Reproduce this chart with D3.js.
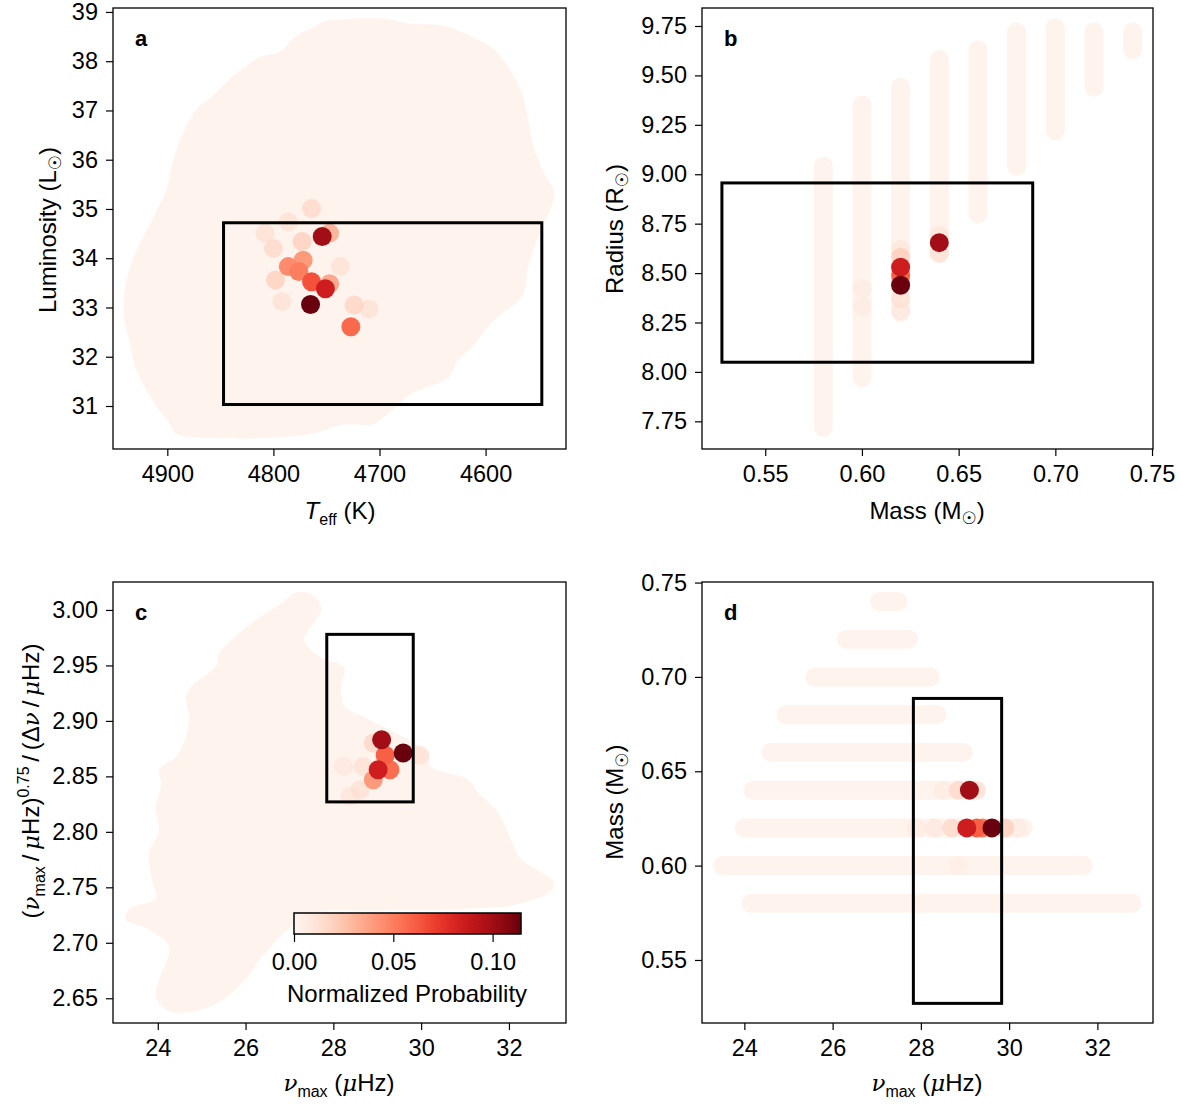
<!DOCTYPE html>
<html>
<head>
<meta charset="utf-8">
<script src="https://cdn.jsdelivr.net/npm/d3@7"></script>
<style>
  body { margin: 0; background: #fff; }
  svg text { font-family: "Liberation Sans", Arial, "DejaVu Sans", sans-serif; }
</style>
</head>
<body>
<svg id="chart" width="1183" height="1104"></svg>
<script>
// ---- data ----
const probMax = 0.1143;
const cloudProb = 0.0012;

// panel a: outline of the faint model cloud (Teff, L)
const aCloudTeff = [4753,4696,4671,4640,4614,4593,4580,4567,4561,4555,4546,4536,4539,4548,4561,4564,4570,4593,4614,4627,4636,4671,4693,4706,4734,4765,4812,4850,4891,4897,4913,4929,4935,4940,4938,4929,4913,4900,4895,4888,4872,4857,4844,4829,4812,4794,4778,4759];
const aCloudLum  = [38.78,38.84,38.74,38.70,38.49,38.23,37.88,37.36,36.81,36.20,35.73,35.32,35.04,34.63,33.82,33.36,33.15,32.75,32.20,31.93,31.59,31.26,30.86,30.65,30.65,30.45,30.37,30.37,30.45,30.65,31.12,31.79,32.34,32.81,33.50,34.11,34.78,35.39,35.85,36.34,37.01,37.27,37.56,37.82,38.07,38.17,38.49,38.69];
// panel a: weighted models
const aTeff = [4786,4808,4792,4710,4737,4764,4800,4724,4773,4798,4747,4747,4772,4786,4776,4727,4764,4751,4754,4765];
const aLum  = [34.74,34.51,33.12,32.97,33.83,35.01,34.20,33.05,34.34,33.56,34.51,33.48,33.96,33.83,33.73,32.61,33.52,33.38,34.44,33.06];
const aProb = [0.015,0.015,0.015,0.015,0.015,0.02,0.02,0.022,0.025,0.025,0.03,0.035,0.04,0.045,0.05,0.057,0.065,0.085,0.10,0.114];
const aBox = { teff: [4847, 4547], lum: [31.03, 34.72] };

// panel b: grid tracks (mass, radius range of the model points)
const bTrackMass = [0.58,0.60,0.62,0.64,0.66,0.68,0.70,0.72,0.74];
const bTrackLow  = [7.72,7.97,8.30,8.60,8.80,9.04,9.22,9.44,9.63];
const bTrackHigh = [9.04,9.35,9.44,9.58,9.63,9.72,9.74,9.72,9.72];
const bMass   = [0.60,0.60,0.62,0.62,0.62,0.62,0.64,0.64,0.62,0.62,0.64,0.62,0.62];
const bRadius = [8.33,8.42,8.31,8.37,8.62,8.58,8.69,8.60,8.47,8.49,8.654,8.438,8.53];
const bProb   = [0.008,0.008,0.010,0.015,0.012,0.025,0.012,0.015,0.03,0.06,0.10,0.114,0.085];
const bBox = { mass: [0.5276, 0.6883], radius: [8.049, 8.956] };

// panel c: outline of the faint model cloud (numax, ratio)
const cCloudNumax = [26.86,27.17,27.54,27.70,27.31,27.76,28.22,28.15,28.22,28.77,29.22,30.13,30.20,30.50,31.04,31.27,31.73,32.02,32.25,32.71,33.00,32.87,32.48,32.02,30.50,28.99,27.47,26.85,26.49,26.33,25.94,25.42,24.80,24.28,23.98,24.05,24.28,23.76,23.30,23.37,23.98,23.89,23.82,24.05,23.98,24.10,24.05,24.44,24.67,24.74,24.67,24.80,25.35,25.42,25.81,26.17];
const cCloudRatio = [3.006,3.015,3.012,3.000,2.973,2.955,2.948,2.931,2.913,2.901,2.892,2.871,2.858,2.853,2.847,2.835,2.817,2.793,2.775,2.763,2.754,2.745,2.739,2.734,2.731,2.730,2.727,2.709,2.694,2.687,2.666,2.648,2.639,2.639,2.651,2.666,2.696,2.714,2.721,2.730,2.739,2.757,2.781,2.799,2.822,2.844,2.856,2.867,2.886,2.901,2.922,2.931,2.949,2.961,2.976,2.988];
const cNumax = [28.23,28.38,28.68,28.61,29.97,28.91,28.91,29.29,29.18,29.02,29.10,29.59];
const cRatio = [2.859,2.832,2.859,2.838,2.869,2.880,2.847,2.856,2.869,2.856,2.883,2.871];
const cProb  = [0.010,0.012,0.015,0.015,0.015,0.022,0.04,0.055,0.06,0.085,0.10,0.114];
const cBox = { numax: [27.85, 29.82], ratio: [2.827, 2.978] };

// panel d: grid tracks (mass, numax range)
const dTrackMass = [0.74,0.72,0.70,0.68,0.66,0.64,0.62,0.60,0.58];
const dTrackLow  = [27.07,26.32,25.60,24.94,24.60,24.20,24.00,23.51,24.15];
const dTrackHigh = [27.48,27.72,28.21,28.36,28.96,29.27,30.32,31.68,32.78];
const dNumax = [27.9,30.2,28.5,28.85,28.3,29.25,28.7,28.85,29.9,29.4,29.27,29.04,29.10,29.61];
const dMass  = [0.62,0.62,0.64,0.60,0.62,0.64,0.62,0.64,0.62,0.62,0.62,0.62,0.64,0.62];
const dProb  = [0.008,0.008,0.008,0.006,0.010,0.015,0.02,0.02,0.025,0.05,0.06,0.085,0.10,0.114];
const dBox = { numax: [27.83, 29.83], mass: [0.527, 0.6886] };

// ticks
const aXTicks = [4900,4800,4700,4600];
const aYTicks = [31,32,33,34,35,36,37,38,39];
const bXTicks = [0.55,0.60,0.65,0.70,0.75];
const bYTicks = [7.75,8.00,8.25,8.50,8.75,9.00,9.25,9.50,9.75];
const cXTicks = [24,26,28,30,32];
const cYTicks = [2.65,2.70,2.75,2.80,2.85,2.90,2.95,3.00];
const dXTicks = [24,26,28,30,32];
const dYTicks = [0.55,0.60,0.65,0.70,0.75];
const cbTicks = [0.00,0.05,0.10];

// ---- drawing ----
const svg = d3.select("#chart");
const color = d3.scaleSequential(d3.interpolateReds).domain([0, probMax]);
const R = 9.5;
const tickFont = "23.5px";
const labelFont = "24px";
let clipId = 0;

function makePanel(cfg) {
    const g = svg.append("g");
    const x = d3.scaleLinear().domain(cfg.xDomain).range([cfg.left, cfg.right]);
    const y = d3.scaleLinear().domain(cfg.yDomain).range([cfg.bottom, cfg.top]);

    const id = "clip" + (clipId++);
    svg.append("clipPath").attr("id", id)
        .append("rect")
        .attr("x", cfg.left).attr("y", cfg.top)
        .attr("width", cfg.right - cfg.left).attr("height", cfg.bottom - cfg.top);
    const plot = g.append("g").attr("clip-path", `url(#${id})`);

    const xAxis = g.append("g")
        .attr("transform", `translate(0,${cfg.bottom})`)
        .call(d3.axisBottom(x).tickValues(cfg.xTicks).tickFormat(d3.format(cfg.xFmt)).tickSize(7).tickPadding(9));
    const yAxis = g.append("g")
        .attr("transform", `translate(${cfg.left},0)`)
        .call(d3.axisLeft(y).tickValues(cfg.yTicks).tickFormat(d3.format(cfg.yFmt)).tickSize(7).tickPadding(8));
    [xAxis, yAxis].forEach(ax => {
        ax.select(".domain").remove();
        ax.selectAll("line").attr("stroke", "#000").attr("stroke-width", 1.2);
        ax.selectAll("text").attr("fill", "#000").style("font-size", tickFont)
            .style("font-family", '"Liberation Sans", Arial, sans-serif');
    });

    return { g, plot, x, y, cfg };
}

function drawFrame(p, letter) {
    p.g.append("rect")
        .attr("x", p.cfg.left).attr("y", p.cfg.top)
        .attr("width", p.cfg.right - p.cfg.left).attr("height", p.cfg.bottom - p.cfg.top)
        .attr("fill", "none").attr("stroke", "#000").attr("stroke-width", 1.3);
    p.g.append("text")
        .attr("x", p.cfg.left + 22).attr("y", p.cfg.top + 38)
        .style("font-size", "22px").style("font-weight", "700")
        .text(letter);
}

function drawCloud(p, xs, ys) {
    const pts = xs.map((v, i) => [v, ys[i]]);
    const line = d3.line().x(d => p.x(d[0])).y(d => p.y(d[1])).curve(d3.curveCatmullRomClosed.alpha(0.5));
    p.plot.append("path")
        .attr("d", line(pts))
        .attr("fill", color(cloudProb))
        .attr("stroke", color(cloudProb))
        .attr("stroke-width", 2)
        .attr("stroke-linejoin", "round");
}

function drawTracks(p, fixed, low, high, vertical) {
    const rows = fixed.map((v, i) => ({ v, lo: low[i], hi: high[i] }));
    p.plot.append("g").selectAll("line")
        .data(rows)
        .enter()
        .append("line")
        .attr("x1", d => vertical ? p.x(d.v) : p.x(d.lo))
        .attr("x2", d => vertical ? p.x(d.v) : p.x(d.hi))
        .attr("y1", d => vertical ? p.y(d.lo) : p.y(d.v))
        .attr("y2", d => vertical ? p.y(d.hi) : p.y(d.v))
        .attr("stroke", color(cloudProb))
        .attr("stroke-width", 2 * R)
        .attr("stroke-linecap", "round");
}

function drawPoints(p, xs, ys, probs) {
    const pts = xs.map((v, i) => ({ x: v, y: ys[i], p: probs[i] }))
        .sort((a, b) => a.p - b.p);
    p.plot.append("g").selectAll("circle")
        .data(pts)
        .enter()
        .append("circle")
        .attr("cx", d => p.x(d.x))
        .attr("cy", d => p.y(d.y))
        .attr("r", R)
        .attr("fill", d => color(d.p))
        .attr("fill-opacity", d => d.p < 0.03 ? 0.6 : 1);
}

function drawBox(p, xr, yr) {
    p.g.append("rect")
        .attr("x", Math.min(p.x(xr[0]), p.x(xr[1])))
        .attr("y", p.y(yr[1]))
        .attr("width", Math.abs(p.x(xr[1]) - p.x(xr[0])))
        .attr("height", p.y(yr[0]) - p.y(yr[1]))
        .attr("fill", "none").attr("stroke", "#000").attr("stroke-width", 3);
}

// label helpers: parts = [text, style]
function richText(sel, parts) {
    let shift = 0;
    parts.forEach(([t, s]) => {
        const ts = sel.append("tspan").text(t);
        let target = 0;
        if (s === "sub") { target = 6; ts.style("font-size", "16px"); }
        if (s === "sup") { target = -10; ts.style("font-size", "16px"); }
        if (s === "symsub") { target = 5; ts.style("font-size", "17px").style("font-family", '"DejaVu Sans", sans-serif'); }
        if (s === "i") { ts.style("font-style", "italic").style("font-family", '"DejaVu Serif", serif').style("font-size", "23px"); }
        if (s === "ti") { ts.style("font-style", "italic"); }
        if (target !== shift) { ts.attr("dy", target - shift); shift = target; }
    });
}

function xLabel(x, y, parts) {
    const t = svg.append("text").attr("x", x).attr("y", y)
        .attr("text-anchor", "middle").style("font-size", labelFont);
    richText(t, parts);
}

function yLabel(x, y, parts) {
    const t = svg.append("text")
        .attr("transform", `translate(${x},${y}) rotate(-90)`)
        .attr("text-anchor", "middle").style("font-size", labelFont);
    richText(t, parts);
}

// panel a
const pa = makePanel({ left: 113, right: 566, top: 8, bottom: 449,
    xDomain: [4951.2, 4524.2], yDomain: [30.127, 39.08],
    xTicks: aXTicks, yTicks: aYTicks, xFmt: "d", yFmt: "d" });
drawCloud(pa, aCloudTeff, aCloudLum);
drawPoints(pa, aTeff, aLum, aProb);
drawBox(pa, aBox.teff, aBox.lum);
drawFrame(pa, "a");

// panel b
const pb = makePanel({ left: 702, right: 1153, top: 8, bottom: 449,
    xDomain: [0.5173, 0.7505], yDomain: [7.61, 9.841],
    xTicks: bXTicks, yTicks: bYTicks, xFmt: ".2f", yFmt: ".2f" });
drawTracks(pb, bTrackMass, bTrackLow, bTrackHigh, true);
drawPoints(pb, bMass, bRadius, bProb);
drawBox(pb, bBox.mass, bBox.radius);
drawFrame(pb, "b");

// panel c
const pc = makePanel({ left: 113, right: 566, top: 582, bottom: 1023,
    xDomain: [22.98, 33.3], yDomain: [2.6277, 3.0252],
    xTicks: cXTicks, yTicks: cYTicks, xFmt: "d", yFmt: ".2f" });
drawCloud(pc, cCloudNumax, cCloudRatio);
drawPoints(pc, cNumax, cRatio, cProb);
drawBox(pc, cBox.numax, cBox.ratio);
drawFrame(pc, "c");

// panel d
const pd = makePanel({ left: 702, right: 1153, top: 582, bottom: 1023,
    xDomain: [23.04, 33.26], yDomain: [0.5166, 0.7503],
    xTicks: dXTicks, yTicks: dYTicks, xFmt: "d", yFmt: ".2f" });
drawTracks(pd, dTrackMass, dTrackLow, dTrackHigh, false);
drawPoints(pd, dNumax, dMass, dProb);
drawBox(pd, dBox.numax, dBox.mass);
drawFrame(pd, "d");

// colorbar inside panel c
const cb = { left: 294, right: 521, top: 913, bottom: 934 };
const grad = svg.append("defs").append("linearGradient").attr("id", "cbgrad");
d3.range(0, 1.0001, 0.05).forEach(t => {
    grad.append("stop").attr("offset", t).attr("stop-color", d3.interpolateReds(t));
});
const cbx = d3.scaleLinear().domain([0, probMax]).range([cb.left, cb.right]);
svg.append("rect")
    .attr("x", cb.left).attr("y", cb.top)
    .attr("width", cb.right - cb.left).attr("height", cb.bottom - cb.top)
    .attr("fill", "url(#cbgrad)").attr("stroke", "#000").attr("stroke-width", 1.5);
const cbAxis = svg.append("g")
    .attr("transform", `translate(0,${cb.bottom})`)
    .call(d3.axisBottom(cbx).tickValues(cbTicks).tickFormat(d3.format(".2f")).tickSize(8).tickPadding(11));
cbAxis.select(".domain").remove();
cbAxis.selectAll("line").attr("stroke", "#000").attr("stroke-width", 1.2);
cbAxis.selectAll("text").attr("fill", "#000").style("font-size", tickFont)
    .style("font-family", '"Liberation Sans", Arial, sans-serif');
svg.append("text").attr("x", 407).attr("y", 1002)
    .attr("text-anchor", "middle").style("font-size", labelFont)
    .text("Normalized Probability");

// axis labels
xLabel(340, 519, [["T", "ti"], ["eff", "sub"], [" (K)", ""]]);
xLabel(927, 519, [["Mass (M", ""], ["\u2609", "symsub"], [")", ""]]);
xLabel(339, 1091, [["\u03bd", "i"], ["max", "sub"], [" (", ""], ["\u03bc", "i"], ["Hz)", ""]]);
xLabel(927, 1091, [["\u03bd", "i"], ["max", "sub"], [" (", ""], ["\u03bc", "i"], ["Hz)", ""]]);
yLabel(56, 230, [["Luminosity (L", ""], ["\u2609", "symsub"], [")", ""]]);
yLabel(623, 229, [["Radius (R", ""], ["\u2609", "symsub"], [")", ""]]);
yLabel(623, 802, [["Mass (M", ""], ["\u2609", "symsub"], [")", ""]]);
yLabel(39, 781, [["(", ""], ["\u03bd", "i"], ["max", "sub"], ["\u2009/\u2009", ""], ["\u03bc", "i"], ["Hz)", ""],
    ["0.75", "sup"], ["\u2009/\u2009(\u0394", ""], ["\u03bd", "i"], ["\u2009/\u2009", ""], ["\u03bc", "i"], ["Hz)", ""]]);
</script>
</body>
</html>
